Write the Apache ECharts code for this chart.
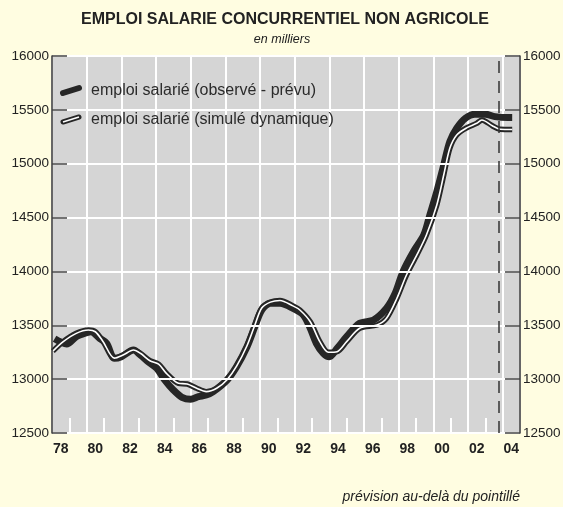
<!DOCTYPE html>
<html>
<head>
<meta charset="utf-8">
<script src="https://cdn.jsdelivr.net/npm/echarts@6/dist/echarts.min.js"></script>
<style>
  html, body { margin: 0; padding: 0; background: #fffde1; }
  #chart { width: 563px; height: 507px; }
</style>
</head>
<body>
<div id="chart"></div>
<script>
// years shown as categories (one band per year), labels every other year
const years = ['78','79','80','81','82','83','84','85','86','87','88','89','90','91','92','93','94','95','96','97','98','99','00','01','02','03','04'];
const yTicks = [12500, 13000, 13500, 14000, 14500, 15000, 15500, 16000];

// emploi salarié (observé - prévu)
const obsT = [1978.15, 1978.5, 1978.85, 1979.4, 1980.0, 1980.25, 1980.75, 1981.15, 1981.6, 1982.0, 1982.7, 1983.1, 1983.55, 1984.05, 1984.5, 1985.0, 1985.5, 1986.0, 1986.45, 1986.9, 1987.3, 1988.1, 1988.65, 1989.25, 1989.7, 1990.1, 1990.6, 1991.15, 1991.9, 1992.5, 1992.9, 1993.25, 1993.65, 1994.0, 1994.45, 1995.0, 1995.75, 1996.55, 1997.3, 1997.8, 1998.25, 1998.85, 1999.45, 1999.8, 2000.2, 2000.6, 2000.95, 2001.35, 2001.85, 2002.4, 2003.0, 2003.55, 2004.3, 2004.55];
const obsV = [13375, 13345, 13326, 13394, 13431, 13440, 13379, 13333, 13193, 13208, 13270, 13224, 13162, 13100, 12992, 12899, 12831, 12813, 12837, 12853, 12884, 12992, 13116, 13301, 13487, 13642, 13704, 13704, 13658, 13596, 13472, 13333, 13240, 13208, 13286, 13394, 13518, 13549, 13658, 13797, 13998, 14183, 14338, 14524, 14740, 14988, 15205, 15329, 15422, 15459, 15459, 15437, 15428, 15428];

// emploi salarié (simulé dynamique)
const simT = [1978.05, 1978.65, 1979.4, 1980.1, 1980.5, 1980.95, 1981.6, 1982.1, 1982.7, 1983.1, 1983.65, 1984.15, 1984.6, 1985.3, 1985.8, 1986.35, 1986.9, 1987.5, 1988.1, 1988.65, 1989.25, 1989.7, 1990.1, 1990.6, 1991.15, 1991.9, 1992.3, 1992.9, 1993.45, 1993.95, 1994.45, 1995.0, 1995.75, 1996.75, 1997.3, 1997.9, 1998.45, 1999.05, 1999.6, 2000.2, 2000.6, 2000.95, 2001.35, 2001.95, 2002.5, 2002.8, 2003.4, 2003.85, 2004.55];
const simV = [13260, 13348, 13425, 13456, 13440, 13348, 13195, 13224, 13270, 13240, 13171, 13140, 13054, 12961, 12955, 12915, 12884, 12915, 12995, 13120, 13310, 13500, 13660, 13715, 13730, 13680, 13642, 13533, 13348, 13249, 13255, 13348, 13472, 13503, 13565, 13751, 13967, 14153, 14338, 14617, 14895, 15143, 15267, 15335, 15375, 15406, 15353, 15320, 15318];

const forecastStart = 2003.78;

const SANS = '"Liberation Sans", Arial, sans-serif';
const DARK = '#262626';

const obsData = obsT.map((t, i) => [t, obsV[i]]);
const simData = simT.map((t, i) => [t, simV[i]]);

const chart = echarts.init(document.getElementById('chart'));

const yAxisBase = {
  type: 'value',
  min: 12500,
  max: 16000,
  interval: 500,
  z: 5,
  axisLine: { show: true, lineStyle: { color: '#333', width: 1.5 } },
  axisTick: { show: true, inside: true, length: 15, lineStyle: { color: '#444', width: 1.5 } },
  axisLabel: {
    margin: 3,
    color: '#222',
    fontFamily: SANS,
    fontSize: 13.5,
    formatter: v => yTicks.includes(v) ? String(v) : ''
  }
};

const option = {
  backgroundColor: '#fffde1',
  animation: false,
  grid: {
    left: 52, right: 43, top: 56, bottom: 74,
    outerBoundsMode: 'none',
    containLabel: false,
    show: true, backgroundColor: '#d5d5d5', borderWidth: 0
  },
  xAxis: [
    {
      // year labels, centred in each year band
      type: 'category',
      position: 'bottom',
      data: years,
      boundaryGap: true,
      axisLine: { show: false },
      axisTick: { show: false },
      splitLine: { show: false },
      axisLabel: {
        interval: 0,
        margin: 9,
        color: '#222',
        fontWeight: 'bold',
        fontFamily: SANS,
        fontSize: 14,
        formatter: (v, i) => i % 2 === 0 ? v : ''
      }
    },
    {
      // data axis, grid lines every two years
      type: 'value', position: 'bottom', min: 1978, max: 2005, interval: 2,
      axisLine: { show: false },
      axisTick: { show: false },
      axisLabel: { show: false },
      splitLine: { show: true, lineStyle: { color: '#fff', width: 2 } }
    },
    {
      // short white ticks every year at the bottom
      type: 'value', position: 'bottom', min: 1978, max: 2005, interval: 1,
      axisLine: { show: false },
      axisTick: { show: true, inside: true, length: 15, lineStyle: { color: '#fff', width: 2 } },
      axisLabel: { show: false },
      splitLine: { show: false }
    }
  ],
  yAxis: [
    Object.assign({}, yAxisBase, {
      position: 'left',
      splitLine: { show: true, lineStyle: { color: '#fff', width: 2 } }
    }),
    Object.assign({}, yAxisBase, {
      position: 'right',
      splitLine: { show: false }
    })
  ],
  series: [
    {
      name: 'emploi salarié (observé - prévu)',
      type: 'line',
      xAxisIndex: 1,
      data: obsData,
      smooth: 0.3,
      symbol: 'none',
      lineStyle: { color: DARK, width: 7, join: 'round' },
      markLine: {
        silent: true,
        symbol: 'none',
        label: { show: false },
        lineStyle: { color: '#333', width: 1.5, type: [12, 8] },
        data: [{ xAxis: forecastStart }]
      }
    },
    {
      name: 'emploi salarié (simulé dynamique)',
      type: 'line',
      xAxisIndex: 1,
      data: simData,
      smooth: 0.3,
      symbol: 'none',
      lineStyle: { color: DARK, width: 5.5, join: 'round' }
    },
    {
      name: 'simulé (trait blanc)',
      type: 'line',
      xAxisIndex: 1,
      data: simData,
      smooth: 0.3,
      symbol: 'none',
      lineStyle: { color: '#fff', width: 1.6, join: 'round' }
    }
  ],
  graphic: [
    {
      type: 'text', x: 285, y: 20,
      style: { text: 'EMPLOI SALARIE CONCURRENTIEL NON AGRICOLE', font: 'bold 16px ' + SANS, fill: '#222', textAlign: 'center', textVerticalAlign: 'middle' }
    },
    {
      type: 'text', x: 282, y: 40,
      style: { text: 'en milliers', font: 'italic 12.5px ' + SANS, fill: '#222', textAlign: 'center', textVerticalAlign: 'middle' }
    },
    {
      type: 'text', x: 520, y: 497,
      style: { text: 'prévision au-delà du pointillé', font: 'italic 14px ' + SANS, fill: '#222', textAlign: 'right', textVerticalAlign: 'middle' }
    },
    // legend
    {
      type: 'polyline', z: 10,
      shape: { points: [[63, 93], [79, 88]] },
      style: { stroke: DARK, lineWidth: 6, lineCap: 'round', fill: null }
    },
    {
      type: 'text', x: 91, y: 91, z: 10,
      style: { text: 'emploi salarié (observé - prévu)', font: '16px ' + SANS, fill: '#2b2b2b', textVerticalAlign: 'middle' }
    },
    {
      type: 'polyline', z: 10,
      shape: { points: [[63, 122], [79, 117]] },
      style: { stroke: DARK, lineWidth: 5, lineCap: 'round', fill: null }
    },
    {
      type: 'polyline', z: 11,
      shape: { points: [[63, 122], [79, 117]] },
      style: { stroke: '#fff', lineWidth: 1.5, fill: null }
    },
    {
      type: 'text', x: 91, y: 120, z: 10,
      style: { text: 'emploi salarié (simulé dynamique)', font: '16px ' + SANS, fill: '#2b2b2b', textVerticalAlign: 'middle' }
    }
  ]
};

chart.setOption(option);
</script>
</body>
</html>
